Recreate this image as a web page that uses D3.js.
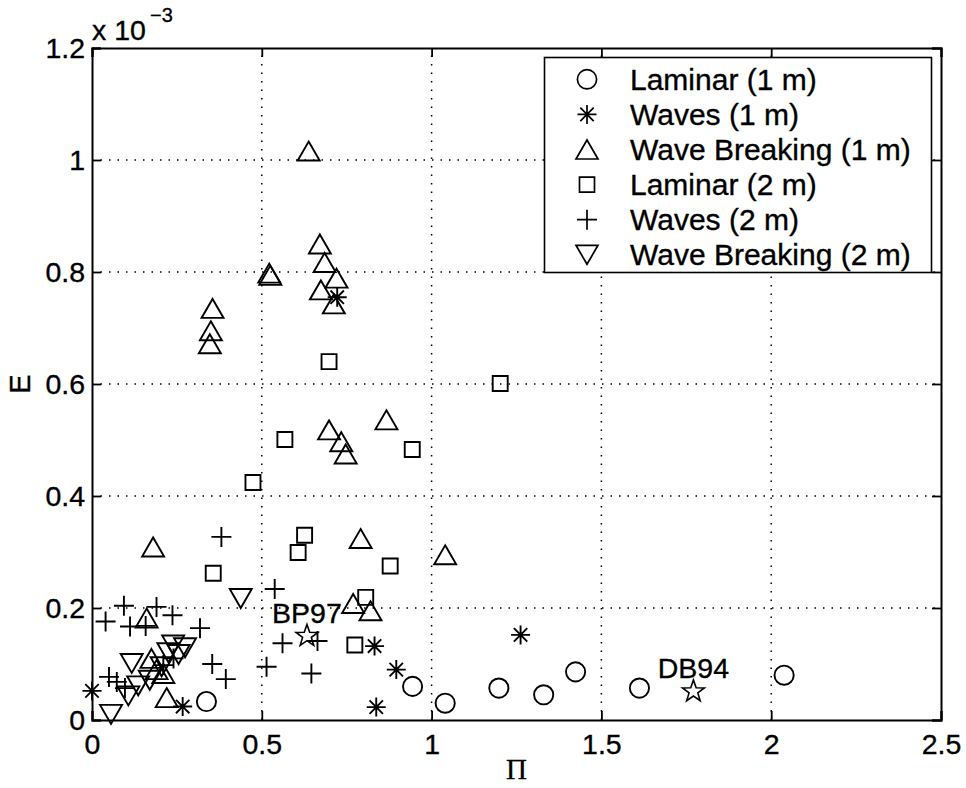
<!DOCTYPE html>
<html>
<head>
<meta charset="utf-8">
<script src="https://cdn.jsdelivr.net/npm/d3@7"></script>
<style>
  html, body { margin: 0; padding: 0; background: #fff; }
  svg { display: block; }
  text { font-family: "Liberation Sans", Arial, Helvetica, sans-serif; fill: #000; }
</style>
</head>
<body>
<svg id="chart" width="966" height="788"></svg>
<script>
// ---- Data (Π, E × 10^-3) ----
const laminar1 = [[0.337,0.033],[0.944,0.060],[1.040,0.030],[1.198,0.057],[1.330,0.045],[1.424,0.086],[1.612,0.057],[2.038,0.080]];
const waves1 = [[0.000,0.052],[0.267,0.024],[0.722,0.755],[0.832,0.132],[0.896,0.090],[0.837,0.023],[1.262,0.152]];
const breaking1 = [[0.638,1.016],[0.671,0.850],[0.685,0.817],[0.720,0.789],[0.674,0.768],[0.712,0.743],[0.522,0.798],[0.525,0.794],
  [0.355,0.735],[0.350,0.695],[0.347,0.672],[0.698,0.518],[0.734,0.497],[0.747,0.475],[0.867,0.536],[0.791,0.324],[1.040,0.295],
  [0.180,0.309],[0.769,0.208],[0.820,0.195],[0.161,0.182],[0.175,0.110],[0.210,0.083],[0.220,0.040],[0.190,0.090]];
const laminar2 = [[0.698,0.640],[1.202,0.601],[0.943,0.483],[0.568,0.501],[0.474,0.424],[0.626,0.330],[0.607,0.299],[0.357,0.262],
  [0.878,0.275],[0.806,0.219],[0.774,0.134]];
const waves2 = [[0.381,0.327],[0.538,0.234],[0.318,0.164],[0.354,0.100],[0.394,0.073],[0.514,0.095],[0.561,0.137],[0.646,0.083],
  [0.664,0.141],[0.094,0.204],[0.040,0.176],[0.112,0.167],[0.158,0.168],[0.190,0.202],[0.237,0.187],[0.050,0.077],[0.073,0.068],
  [0.097,0.057],[0.240,0.110],[0.210,0.098]];
const breaking2 = [[0.438,0.217],[0.056,0.010],[0.117,0.101],[0.107,0.043],[0.136,0.061],[0.170,0.071],[0.239,0.134],[0.274,0.129],
  [0.205,0.095],[0.255,0.117],[0.225,0.120]];
const refPoints = [{name:"BP97", x:0.633, y:0.150}, {name:"DB94", x:1.771, y:0.051}];
const seriesNames = ["Laminar (1 m)","Waves (1 m)","Wave Breaking (1 m)","Laminar (2 m)","Waves (2 m)","Wave Breaking (2 m)"];
const xTicks = [0, 0.5, 1, 1.5, 2, 2.5];
const yTicks = [0, 0.2, 0.4, 0.6, 0.8, 1, 1.2];

// ---- Layout ----
const svg = d3.select("#chart");
const L = 92, R = 941, T = 48, B = 720;
const x = d3.scaleLinear().domain([0, 2.5]).range([L, R]);
const y = d3.scaleLinear().domain([0, 1.2]).range([B, T]);

svg.append("rect").attr("width", 966).attr("height", 788).attr("fill", "#fff");

// grid
const grid = svg.append("g").attr("stroke", "#000").attr("stroke-width", 1.5).attr("stroke-dasharray", "1.5,7");
grid.selectAll(".gx").data(xTicks.filter(d => d > 0 && d < 2.5)).join("line")
  .attr("x1", d => x(d)).attr("x2", d => x(d)).attr("y1", B).attr("y2", T);
grid.selectAll(".gy").data(yTicks.filter(d => d > 0 && d < 1.2)).join("line")
  .attr("y1", d => y(d)).attr("y2", d => y(d)).attr("x1", L).attr("x2", R);

// axes
const fmt = d => String(d);
const tk = 9;
const gB = svg.append("g").attr("transform", `translate(0,${B})`)
  .call(d3.axisBottom(x).tickValues(xTicks).tickFormat(fmt).tickSize(-tk).tickPadding(14));
const gT = svg.append("g").attr("transform", `translate(0,${T})`)
  .call(d3.axisTop(x).tickValues(xTicks).tickFormat("").tickSize(-tk));
const gL = svg.append("g").attr("transform", `translate(${L},0)`)
  .call(d3.axisLeft(y).tickValues(yTicks).tickFormat(fmt).tickSize(-tk).tickPadding(7));
const gR = svg.append("g").attr("transform", `translate(${R},0)`)
  .call(d3.axisRight(y).tickValues(yTicks).tickFormat("").tickSize(-tk));
[gB, gT, gL, gR].forEach(g => {
  g.select(".domain").attr("stroke", "#000").attr("stroke-width", 2);
  g.selectAll(".tick line").attr("stroke", "#000").attr("stroke-width", 1.8);
  g.selectAll(".tick text").attr("font-size", 28.5).attr("font-family", "Liberation Sans, Arial, sans-serif")
    .attr("fill", "#000").attr("stroke", "#000").attr("stroke-width", 0.35);
});

// exponent label
svg.append("text").attr("x", L).attr("y", 40).attr("font-size", 28.5)
  .attr("stroke", "#000").attr("stroke-width", 0.35).text("x 10");
svg.append("text").attr("x", 150).attr("y", 22).attr("font-size", 20)
  .attr("stroke", "#000").attr("stroke-width", 0.3).text("\u22123");

// axis labels
svg.append("text").attr("x", (L + R) / 2).attr("y", 779).attr("text-anchor", "middle")
  .style("font-family", "Liberation Serif, 'Times New Roman', serif")
  .attr("font-size", 29).attr("stroke", "#000").attr("stroke-width", 0.3).text("\u03A0");
svg.append("text").attr("transform", `translate(30,${(T + B) / 2}) rotate(-90)`).attr("text-anchor", "middle")
  .style("font-family", "Liberation Sans, Arial, sans-serif")
  .attr("font-size", 29).attr("stroke", "#000").attr("stroke-width", 0.35).text("E");

// marker shapes (pixel units, centred on the point)
function starPath(ro, ri) {
  let p = "";
  for (let i = 0; i < 10; i++) {
    const r = i % 2 === 0 ? ro : ri;
    const a = -Math.PI / 2 + i * Math.PI / 5;
    p += (i === 0 ? "M" : "L") + (r * Math.cos(a)).toFixed(2) + "," + (r * Math.sin(a)).toFixed(2);
  }
  return p + "Z";
}
const shapes = {
  circle: "M9.6,0A9.6,9.6 0 1,1 -9.6,0A9.6,9.6 0 1,1 9.6,0Z",
  asterisk: "M-9.5,0H9.5M0,-9.5V9.5M-6.7,-6.7L6.7,6.7M-6.7,6.7L6.7,-6.7",
  triUp: "M0,-9.5L11,9.5L-11,9.5Z",
  square: "M-7.5,-7.5H7.5V7.5H-7.5Z",
  plus: "M-10,0H10M0,-10V10",
  triDown: "M-11,-9.5L11,-9.5L0,9.5Z",
  star: starPath(11.5, 4.6)
};
const series = [
  {data: laminar1, shape: "circle"},
  {data: waves1, shape: "asterisk"},
  {data: breaking1, shape: "triUp"},
  {data: laminar2, shape: "square"},
  {data: waves2, shape: "plus"},
  {data: breaking2, shape: "triDown"}
];

const marks = svg.append("g").attr("fill", "none").attr("stroke", "#000").attr("stroke-width", 1.9).attr("stroke-linejoin", "miter");
series.forEach(s => {
  marks.append("g").selectAll("path").data(s.data).join("path")
    .attr("transform", d => `translate(${x(d[0])},${y(d[1])})`)
    .attr("d", shapes[s.shape]);
  if (s.shape === "asterisk") {
    marks.append("g").selectAll("circle").data(s.data).join("circle")
      .attr("cx", d => x(d[0])).attr("cy", d => y(d[1])).attr("r", 2.2).attr("fill", "#000").attr("stroke", "none");
  }
});

// reference stars + labels
svg.append("g").selectAll("path").data(refPoints).join("path")
  .attr("transform", d => `translate(${x(d.x)},${y(d.y)})`)
  .attr("d", shapes.star).attr("fill", "none").attr("stroke", "#000").attr("stroke-width", 1.6);
svg.append("g").selectAll("text").data(refPoints).join("text")
  .attr("x", d => x(d.x)).attr("y", d => y(d.y) - 13).attr("text-anchor", "middle")
  .attr("font-size", 28.5).attr("stroke", "#000").attr("stroke-width", 0.35).text(d => d.name);

// legend
const lg = svg.append("g");
lg.append("rect").attr("x", 544.5).attr("y", 57.5).attr("width", 387).attr("height", 215)
  .attr("fill", "#fff").attr("stroke", "#000").attr("stroke-width", 1.6);
const rowY = i => 79.3 + i * 35.1;
series.forEach((s, i) => {
  lg.append("path").attr("transform", `translate(587,${rowY(i)})`).attr("d", shapes[s.shape])
    .attr("fill", "none").attr("stroke", "#000").attr("stroke-width", 1.7);
  if (s.shape === "asterisk") lg.append("circle").attr("cx", 587).attr("cy", rowY(i)).attr("r", 2).attr("fill", "#000");
  lg.append("text").attr("x", 630).attr("y", rowY(i)).attr("dy", "0.35em").attr("font-size", 30)
    .attr("stroke", "#000").attr("stroke-width", 0.35).text(seriesNames[i]);
});
</script>
</body>
</html>
